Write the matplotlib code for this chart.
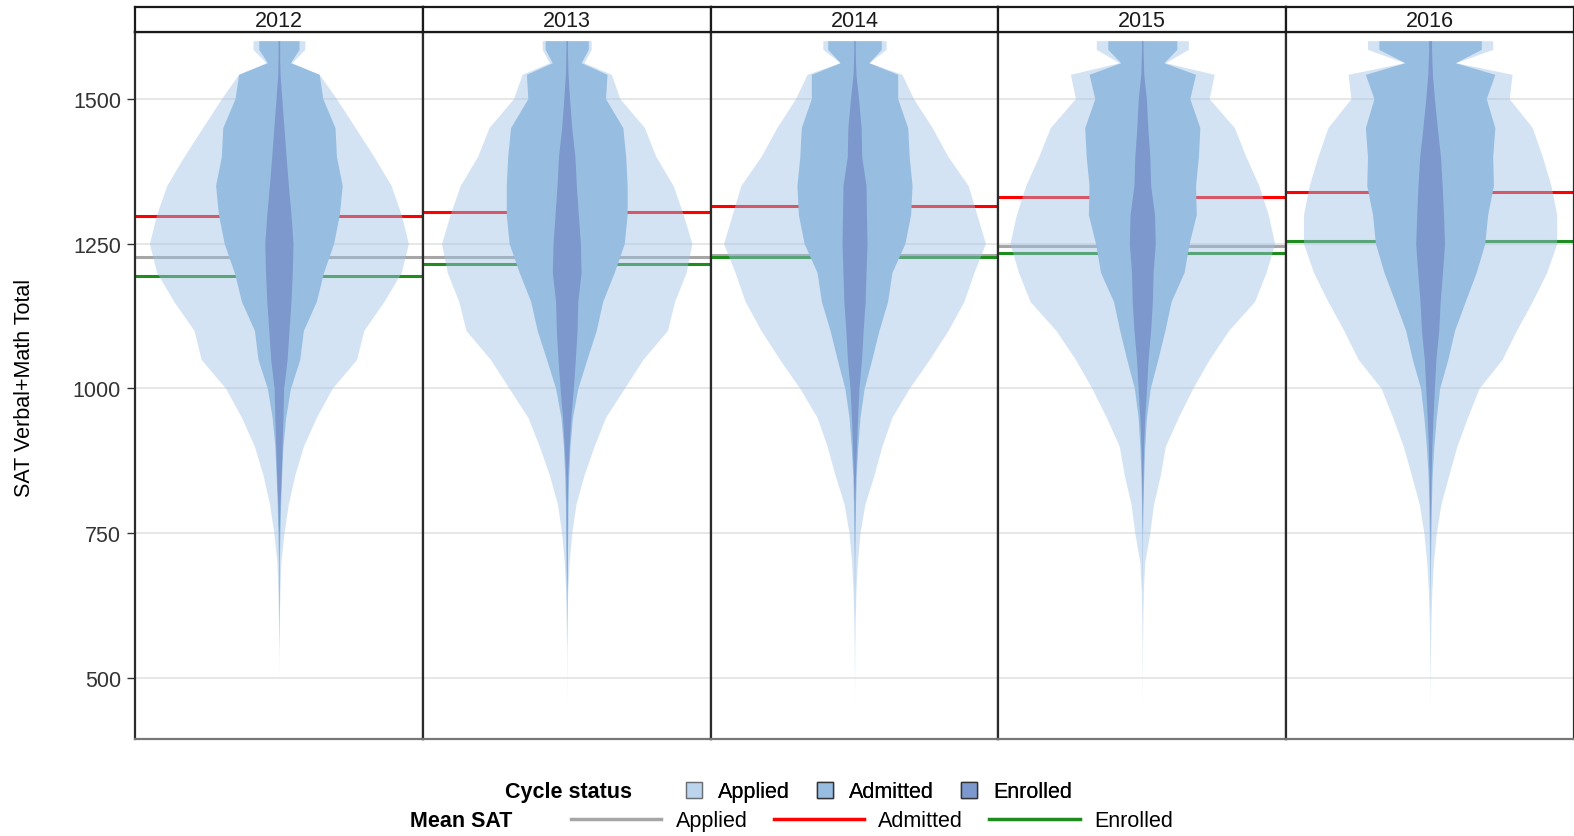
import matplotlib
matplotlib.use("Agg")
import matplotlib.pyplot as plt
from matplotlib.patches import Patch
from matplotlib.lines import Line2D
import numpy as np

plt.rcParams['font.family'] = ['Liberation Sans', 'DejaVu Sans']

# --- data --------------------------------------------------------------
years = [2012, 2013, 2014, 2015, 2016]

# SAT levels at which the violin half-widths were read
sat_levels = [1600, 1585, 1562, 1542, 1500, 1450, 1400, 1350, 1300, 1250, 1200,
              1150, 1100, 1050, 1000, 950, 900, 850, 800, 750, 700, 650, 600,
              550, 500, 450]

# half-width of each violin, % of half a panel
applied_width = {
    2012: [18, 18, 9, 28, 40, 53, 66, 78, 85, 90, 85, 73, 59, 54, 37, 26, 17, 11, 6.5, 3.5, 1.4, 0.7, 0.3, 0.1, 0, 0],
    2013: [17, 17, 12, 31, 37, 54, 62, 74, 81, 87, 83, 75, 70, 53, 40, 27, 19, 12, 6.4, 3.5, 1.7, 0.7, 0.35, 0.15, 0.05, 0],
    2014: [22, 22, 10, 33, 41, 54, 65, 79, 85, 91, 83, 76, 65, 52, 38, 26, 19, 13.5, 7.2, 3.8, 2, 1, 0.5, 0.2, 0.05, 0],
    2015: [32, 32, 16, 50, 46.5, 64, 72, 81, 87.5, 92, 86, 78, 60, 46.5, 35, 25, 16, 12.5, 7.8, 5.2, 1.7, 0.7, 0.35, 0.15, 0.05, 0],
    2016: [43.5, 43.5, 18, 57, 55, 71, 78, 84, 88, 88, 81, 71, 60, 50, 34, 26, 18.6, 13, 7.5, 4.3, 2.3, 1.2, 0.6, 0.3, 0.1, 0],
}
admitted_width = {
    2012: [14, 14, 8, 28, 30.5, 39, 40, 44, 42, 38, 31, 26, 17, 14.5, 8, 4.7, 2.8, 1.9, 1.2, 0.7, 0.35, 0.3, 0.1, 0, 0, 0],
    2013: [15, 15, 10, 28, 27, 39, 41, 42, 42, 40, 33, 25, 20.5, 14, 7.7, 4, 2.3, 1.4, 0.9, 0.7, 0.5, 0.3, 0.1, 0, 0, 0],
    2014: [18.6, 18.6, 10, 30, 30, 37, 38, 40, 39, 35, 26, 23, 17, 12, 6.7, 3.8, 2.3, 1.2, 0.7, 0.5, 0.2, 0.1, 0, 0, 0, 0],
    2015: [24, 24, 15, 37, 33, 40, 39, 37, 37.5, 32.5, 29, 20, 15.7, 10.8, 5.5, 2.9, 1.7, 1, 0.5, 0.2, 0.1, 0, 0, 0, 0, 0],
    2016: [35.6, 35.6, 17.4, 45, 39, 45, 43.5, 44, 40, 38, 32, 24.4, 17, 12.3, 6.6, 4.3, 2.6, 1.4, 0.9, 0.6, 0.3, 0.1, 0, 0, 0, 0],
}
enrolled_width = {
    2012: [0.5, 0.5, 0.6, 0.8, 2, 3.5, 5, 6.6, 8.4, 9.8, 9.3, 8.4, 7, 5.7, 3.3, 2.8, 2.2, 1.6, 0.7, 0.2, 0, 0, 0, 0, 0, 0],
    2013: [0.5, 0.5, 0.7, 0.9, 2, 3.5, 5.7, 6.7, 8.1, 9.5, 10, 7.7, 7.2, 6, 4.6, 2.9, 1.7, 0.7, 0.4, 0.3, 0.2, 0, 0, 0, 0, 0],
    2014: [0.5, 0.5, 0.7, 1, 2.8, 4.6, 5, 8, 8.3, 8.7, 8, 7.4, 6, 4.9, 3.1, 2.1, 1.4, 0.7, 0.2, 0, 0, 0, 0, 0, 0, 0],
    2015: [0.5, 0.5, 0.8, 1, 2.8, 3.8, 5.2, 5.8, 8.5, 9, 7.5, 7, 5.8, 4, 2.9, 1.7, 0.9, 0.5, 0.2, 0, 0, 0, 0, 0, 0, 0],
    2016: [1, 1, 1.3, 1.6, 3, 5, 7.2, 8.4, 9.3, 10, 8.6, 7, 6, 4, 3, 2, 1.2, 0.7, 0.35, 0.1, 0, 0, 0, 0, 0, 0],
}

mean_applied = [1226, 1226, 1230, 1245, 1255]
mean_admitted = [1298, 1305, 1315, 1331, 1339]
mean_enrolled = [1194, 1214, 1227, 1233, 1254]

status_labels = ['Applied', 'Admitted', 'Enrolled']
status_colors = ['#A1C4E5', '#97BDE1', '#7D98CC']
line_colors = ['#A6A6A6', '#FF0000', '#1E8C1E']
FS = 15.5

# --- layout -------------------------------------------------------------
W, H = 1574, 837
fig = plt.figure(figsize=(W / 100, H / 100), dpi=100)
left0, pw = 135, 287.8
top_px, bot_px = 33, 740

sat = np.array(sat_levels)
for i, yr in enumerate(years):
    x0 = (left0 + i * pw) / W
    ax = fig.add_axes([x0, 1 - bot_px / H, pw / W, (bot_px - top_px) / H])

    for val, col in zip([mean_applied[i], mean_admitted[i], mean_enrolled[i]], line_colors):
        ax.axhline(val, color=col, lw=2.2, zorder=2)

    wa = np.array(applied_width[yr]) / 100
    wm = np.array(admitted_width[yr]) / 100
    we = np.array(enrolled_width[yr]) / 100
    ax.fill_betweenx(sat, -wa, wa, color=status_colors[0], alpha=0.46, lw=0, zorder=3)
    ax.fill_betweenx(sat, -wm, wm, color=status_colors[1], lw=0, zorder=4)
    ax.fill_betweenx(sat, -we, we, color=status_colors[2], lw=0, zorder=5)

    ax.set_xlim(-1, 1)
    ax.set_ylim(395, 1615)
    ax.set_yticks([500, 750, 1000, 1250, 1500])
    ax.grid(axis='y', color='#E3E3E3', lw=1.2, zorder=0)
    ax.set_axisbelow(True)
    ax.set_xticks([])
    for s in ['left', 'right', 'top']:
        ax.spines[s].set_color('#2B2B2B')
        ax.spines[s].set_linewidth(1.6)
    ax.spines['bottom'].set_color('#777777')
    ax.spines['bottom'].set_linewidth(1.6)
    if i == 0:
        ax.tick_params(axis='y', length=6, width=1, color='#333333',
                       labelsize=FS, labelcolor='#333333', pad=4)
    else:
        ax.tick_params(axis='y', left=False, labelleft=False)

    # facet strip
    sx = fig.add_axes([x0, 1 - top_px / H, pw / W, 25 / H])
    sx.set_xticks([])
    sx.set_yticks([])
    for s in sx.spines.values():
        s.set_color('#1A1A1A')
        s.set_linewidth(1.6)
    sx.text(0.5, 0.45, str(yr), ha='center', va='center', fontsize=FS,
            color='#1A1A1A', transform=sx.transAxes)

fig.text(25 / W, 1 - 388 / H, 'SAT Verbal+Math Total', rotation=90,
         ha='center', va='center', fontsize=FS)

# --- legends ------------------------------------------------------------
patch_handles = [Patch(facecolor=c, edgecolor='#333333', lw=1,
                       alpha=(0.46 if k == 0 else 1))
                 for k, c in enumerate(status_colors)]
leg1 = fig.legend(patch_handles, status_labels, ncol=3, loc='center left',
                  bbox_to_anchor=(686 / W, 1 - 793 / H), frameon=False,
                  fontsize=FS, handlelength=0.75, handleheight=0.75,
                  handletextpad=0.75, columnspacing=1.25, borderpad=0,
                  borderaxespad=0)
fig.text(505 / W, 1 - 793 / H, 'Cycle status', fontsize=FS,
         fontweight='bold', va='center')

line_handles = [Line2D([], [], color=c, lw=2.5) for c in line_colors]
leg2 = fig.legend(line_handles, status_labels, ncol=3, loc='center left',
                  bbox_to_anchor=(571 / W, 1 - 822 / H), frameon=False,
                  fontsize=FS, handlelength=4.2, handletextpad=0.67,
                  columnspacing=1.2, borderpad=0, borderaxespad=0)
fig.add_artist(leg1)
fig.text(410 / W, 1 - 822 / H, 'Mean SAT', fontsize=FS,
         fontweight='bold', va='center')

fig.savefig('out.png', dpi=100, facecolor='white')
